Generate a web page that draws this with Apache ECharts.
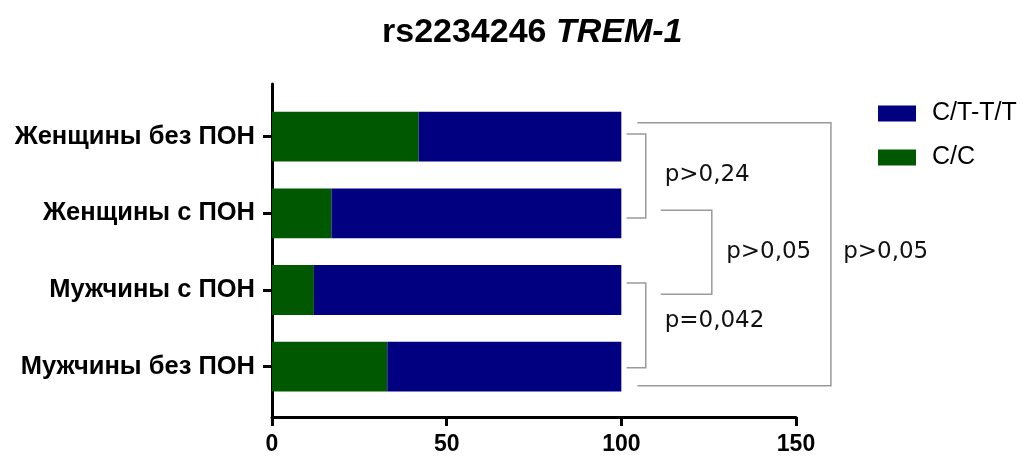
<!DOCTYPE html>
<html>
<head>
<meta charset="utf-8">
<script src="https://cdn.jsdelivr.net/npm/echarts@6/dist/echarts.min.js"></script>
<style>
html,body{margin:0;padding:0;background:#fff;}
#chart{width:1027px;height:456px;}
</style>
</head>
<body>
<div id="chart"></div>
<script>
// ---- data ----
const titleMain = 'rs2234246';
const titleGene = 'TREM-1';
const categories = ['Женщины без ПОН', 'Женщины с ПОН', 'Мужчины с ПОН', 'Мужчины без ПОН'];
const seriesNames = ['C/C', 'C/T-T/T'];
const ccValues = [42, 17, 12, 33];
const ctttValues = [58, 83, 88, 67];
const xMin = 0, xMax = 150, xStep = 50;
const comparisons = [
  { from: 0, to: 1, label: 'p>0,24' },
  { from: 1, to: 2, label: 'p>0,05' },
  { from: 2, to: 3, label: 'p=0,042' },
  { from: 0, to: 3, label: 'p>0,05' }
];

// ---- annotation layout (in axis units) ----
const bracketGeom = [
  { x0: 101.5, xv: 107,   top: -0.035, bot: 0.062, lx: 112.4, ly: 0.5 },
  { x0: 111.3, xv: 125.9, top: -0.04,  bot: 0.056, lx: 130,   ly: 0.5 },
  { x0: 101.5, xv: 107,   top: -0.09,  bot: 0.013, lx: 112.4, ly: 0.4 },
  { x0: 104.6, xv: 160,   top: -0.18,  bot: 0.25,  lx: 163.5, ly: 1.5 }
];

const BLUE = '#000080', GREEN = '#005800';
const chart = echarts.init(document.getElementById('chart'), null, { renderer: 'canvas' });

const option = {
  backgroundColor: '#fff',
  animation: false,
  title: {
    text: '{a|' + titleMain + ' }{b|' + titleGene + '}',
    left: 377, top: 11,
    textStyle: {
      rich: {
        a: { fontFamily: 'Liberation Sans', fontWeight: 'bold', fontSize: 34, color: '#000' },
        b: { fontFamily: 'Liberation Sans', fontWeight: 'bold', fontStyle: 'italic', fontSize: 34, color: '#000' }
      }
    }
  },
  legend: {
    data: ['C/T-T/T', 'C/C'],
    orient: 'vertical',
    left: 873, top: 96,
    itemWidth: 38, itemHeight: 16, itemGap: 19,
    icon: 'rect',
    textStyle: { fontFamily: 'Liberation Sans', fontSize: 25, color: '#000', lineHeight: 25, padding: [0, 0, 0, 11] }
  },
  grid: [
    { left: 272, right: 231, top: 84, bottom: 39, containLabel: false },
    { left: 272, right: 231, top: 98.3, bottom: 51, containLabel: false }
  ],
  xAxis: [
    {
      gridIndex: 0, type: 'value', min: xMin, max: xMax, interval: xStep,
      axisLine: { show: true, lineStyle: { color: '#000', width: 3 } },
      axisTick: { show: true, inside: false, length: 9, lineStyle: { color: '#000', width: 3 } },
      axisLabel: { show: true, margin: 16, fontFamily: 'Liberation Sans', fontWeight: 'bold', fontSize: 23, color: '#000' },
      splitLine: { show: false }
    },
    {
      gridIndex: 1, type: 'value', min: xMin, max: xMax, interval: xStep, show: false
    }
  ],
  yAxis: [
    {
      gridIndex: 0, type: 'value', min: 0, max: 1,
      axisLine: { show: true, lineStyle: { color: '#000', width: 3 } },
      axisTick: { show: false }, axisLabel: { show: false }, splitLine: { show: false }
    },
    {
      gridIndex: 1, type: 'category', data: categories, inverse: true,
      axisLine: { show: false },
      axisTick: { show: true, alignWithLabel: true, length: 9, lineStyle: { color: '#000', width: 3 } },
      axisLabel: { margin: 17, fontFamily: 'Liberation Sans', fontWeight: 'bold', fontSize: 25.5, color: '#000' },
      splitLine: { show: false }
    }
  ],
  series: [
    {
      name: seriesNames[0], type: 'bar', stack: 'total', xAxisIndex: 1, yAxisIndex: 1,
      data: ccValues, barCategoryGap: '35%', itemStyle: { color: GREEN }
    },
    {
      name: seriesNames[1], type: 'bar', stack: 'total', xAxisIndex: 1, yAxisIndex: 1,
      data: ctttValues, barCategoryGap: '35%', itemStyle: { color: BLUE }
    },
    {
      name: 'brackets', type: 'custom', xAxisIndex: 1, yAxisIndex: 1, clip: false, silent: true,
      data: comparisons.map(c => [100, c.from]),
      encode: { x: 0, y: 1 },
      renderItem: function (params, api) {
        const i = params.dataIndex;
        const c = comparisons[i];
        const g = bracketGeom[i];
        const band = api.coord([0, 1])[1] - api.coord([0, 0])[1];
        const yTop = api.coord([0, c.from])[1] + g.top * band;
        const yBot = api.coord([0, c.to])[1] + g.bot * band;
        const x0 = api.coord([g.x0, 0])[0];
        const xv = api.coord([g.xv, 0])[0];
        const lx = api.coord([g.lx, 0])[0];
        const ly = api.coord([0, c.from])[1] + g.ly * band;
        return {
          type: 'group',
          children: [
            {
              type: 'polyline',
              shape: { points: [[x0, yTop], [xv, yTop], [xv, yBot], [x0, yBot]] },
              style: { stroke: '#9a9a9a', lineWidth: 1.5, fill: null }
            },
            {
              type: 'text',
              style: { text: c.label, x: lx, y: ly, fill: '#111', fontSize: 23, fontFamily: 'DejaVu Sans', verticalAlign: 'middle', align: 'left' }
            }
          ]
        };
      }
    }
  ]
};
chart.setOption(option);
</script>
</body>
</html>
